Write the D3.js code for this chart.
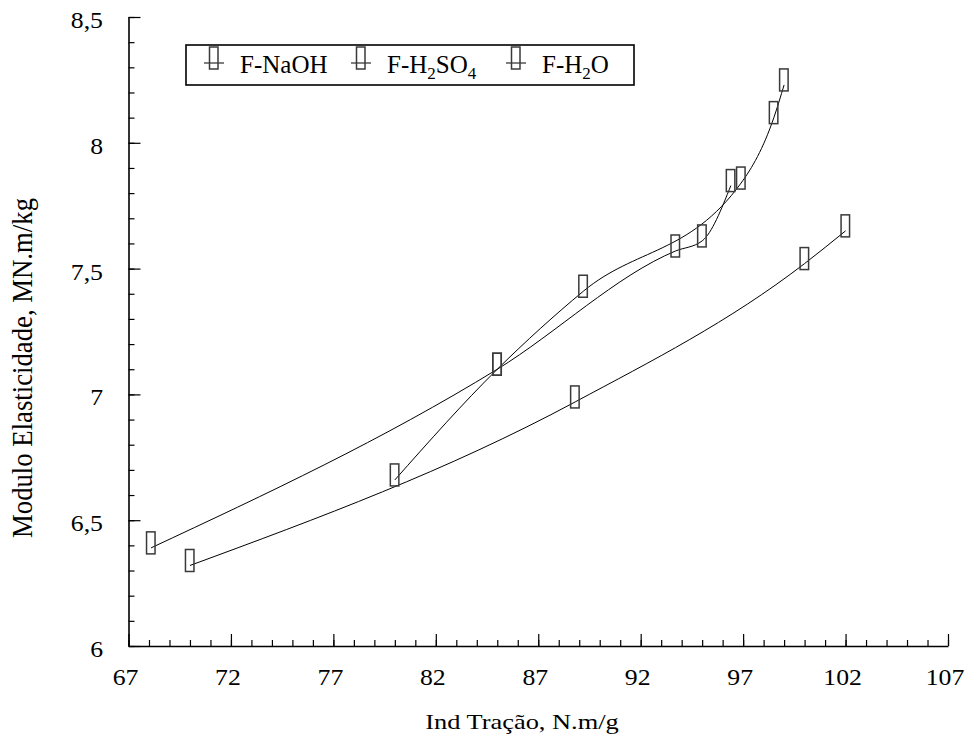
<!DOCTYPE html>
<html>
<head>
<meta charset="utf-8">
<script src="https://cdn.jsdelivr.net/npm/d3@7"></script>
<style>
  body { margin: 0; background: #fff; }
  text { font-family: "Liberation Serif", "Times New Roman", serif; fill: #000; }
</style>
</head>
<body>
<div id="chart"></div>
<script>
// data
const naohPoints  = [[68.1, 6.39], [85, 7.10], [93.7, 7.57], [95, 7.61], [96.4, 7.83]];
const h2so4Points = [[80, 6.66], [85, 7.10], [89.2, 7.41], [96.9, 7.84], [98.5, 8.10], [99, 8.23]];
const h2oPoints   = [[70, 6.32], [88.8, 6.97], [100, 7.52], [102, 7.65]];
const xTicks = [67, 72, 77, 82, 87, 92, 97, 102, 107];
const yTicks = [6, 6.5, 7, 7.5, 8, 8.5];
const yTickLabels = ["6", "6,5", "7", "7,5", "8", "8,5"];
// legend entries: [main, subscript, tail, subscript]
const legendLabels = [["F-NaOH"], ["F-H", "2", "SO", "4"], ["F-H", "2", "O"]];

const W = 969, H = 740;
const svg = d3.select("#chart").append("svg").attr("width", W).attr("height", H);

const x = d3.scaleLinear().domain([67, 107]).range([128.5, 948]);
const y = d3.scaleLinear().domain([6, 8.5]).range([646, 17]);

// minor ticks
svg.append("g")
    .attr("transform", "translate(0,646)")
    .call(d3.axisBottom(x).tickValues(d3.range(67, 108, 1)).tickSize(-6).tickSizeOuter(0).tickFormat(""))
    .call(g => g.select(".domain").remove());
svg.append("g")
    .attr("transform", "translate(128.5,0)")
    .call(d3.axisLeft(y).tickValues(d3.range(60, 86, 1).map(v => v / 10)).tickSize(-6).tickSizeOuter(0).tickFormat(""))
    .call(g => g.select(".domain").remove());

// major ticks + axis lines
svg.append("g")
    .attr("transform", "translate(0,646)")
    .call(d3.axisBottom(x).tickValues(xTicks).tickSize(-12).tickSizeOuter(0).tickFormat(""));
svg.append("g")
    .attr("transform", "translate(128.5,0)")
    .call(d3.axisLeft(y).tickValues(yTicks).tickSize(-12).tickSizeOuter(0).tickFormat(""));
svg.selectAll(".tick line").attr("stroke", "#000").attr("stroke-width", 1.2);
svg.selectAll(".domain").attr("stroke", "#000").attr("stroke-width", 1.6);

// tick labels
svg.append("g").selectAll("text")
    .data(xTicks)
    .join("text")
    .attr("transform", d => `translate(${x(d) - 3},685) scale(1.12,1)`)
    .attr("text-anchor", "middle")
    .attr("font-size", 23)
    .text(d => d);

svg.append("g").selectAll("text")
    .data(yTicks)
    .join("text")
    .attr("transform", d => `translate(103,${y(d) + 11}) scale(1.12,1)`)
    .attr("text-anchor", "end")
    .attr("font-size", 23)
    .text((d, i) => yTickLabels[i]);

// axis titles
svg.append("text")
    .attr("transform", "translate(522,729) scale(1.2,1)")
    .attr("text-anchor", "middle")
    .attr("font-size", 22)
    .text("Ind Tração, N.m/g");

svg.append("text")
    .attr("transform", "translate(32,368) rotate(-90)")
    .attr("text-anchor", "middle")
    .attr("font-size", 30)
    .attr("textLength", 340)
    .attr("lengthAdjust", "spacingAndGlyphs")
    .text("Modulo Elasticidade, MN.m/kg");

// curves
const line = d3.line()
    .curve(d3.curveMonotoneX)
    .x(d => x(d[0]))
    .y(d => y(d[1]));

const allSeries = [naohPoints, h2so4Points, h2oPoints];

svg.append("g").selectAll("path")
    .data(allSeries)
    .join("path")
    .attr("d", line)
    .attr("fill", "none")
    .attr("stroke", "#000")
    .attr("stroke-width", 1);

// markers (tall hollow boxes, point sits low in the box)
function marker(sel) {
    sel.attr("x", -4.5).attr("y", -16)
        .attr("width", 8.5).attr("height", 22)
        .attr("fill", "none")
        .attr("stroke", "#3a3a3a")
        .attr("stroke-width", 1.5);
}

allSeries.forEach(pts => {
    svg.append("g").selectAll("rect")
        .data(pts)
        .join("rect")
        .attr("transform", d => `translate(${x(d[0])},${y(d[1])})`)
        .call(marker);
});

// legend
const legend = svg.append("g");
legend.append("rect")
    .attr("x", 186).attr("y", 45)
    .attr("width", 448).attr("height", 40)
    .attr("fill", "#fff")
    .attr("stroke", "#000")
    .attr("stroke-width", 1.6);

const legendX = [214, 361, 516];
legendLabels.forEach((parts, i) => {
    const g = legend.append("g").attr("transform", `translate(${legendX[i]},63)`);
    g.append("line").attr("x1", -10).attr("x2", 10).attr("stroke", "#000").attr("stroke-width", 1);
    g.append("rect").call(marker);
    const t = g.append("text")
        .attr("x", 26).attr("y", 10)
        .attr("font-size", 25);
    parts.forEach((p, j) => {
        const sub = j % 2 === 1;
        t.append("tspan")
            .attr("font-size", sub ? 17 : 25)
            .attr("dy", sub ? 6 : (j > 0 ? -6 : 0))
            .text(p);
    });
});
</script>
</body>
</html>
